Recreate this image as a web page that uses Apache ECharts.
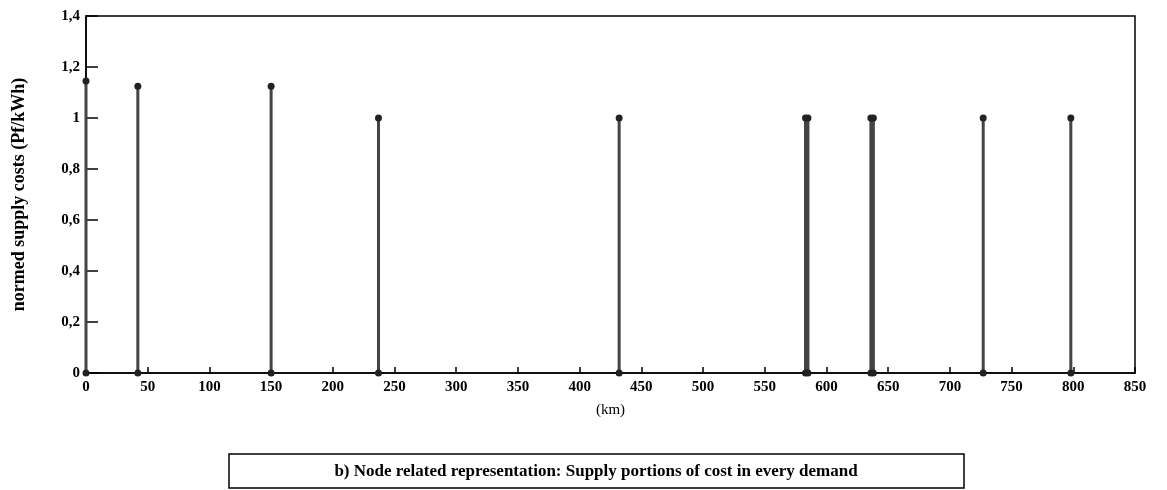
<!DOCTYPE html>
<html>
<head>
<meta charset="utf-8">
<script src="https://cdn.jsdelivr.net/npm/echarts@6/dist/echarts.min.js"></script>
<style>html,body{margin:0;padding:0;background:#fff}#c{width:1167px;height:490px}</style>
</head>
<body>
<div id="c"></div>
<script>
var nodeKm = [0, 42, 150, 237, 432, 583, 585, 636, 638, 727, 798];
var nodeCost = [1.145, 1.125, 1.125, 1.0, 1.0, 1.0, 1.0, 1.0, 1.0, 1.0, 1.0];
var yTicks = [0, 0.2, 0.4, 0.6, 0.8, 1, 1.2, 1.4];
var xTitle = '(km)';
var yTitle = 'normed supply costs (Pf/kWh)';
var caption = 'b) Node related representation: Supply portions of cost in every demand';

var font = '"Liberation Serif", "DejaVu Serif", serif';
var chart = echarts.init(document.getElementById('c'), null, {renderer: 'canvas'});
var series = nodeKm.map(function (x, i) {
  return {
    type: 'line',
    data: [[x, 0], [x, nodeCost[i]]],
    symbol: 'circle',
    symbolSize: 7,
    showSymbol: true,
    lineStyle: {color: '#444', width: 3},
    itemStyle: {color: '#222'},
    animation: false,
    silent: true
  };
});
chart.setOption({
  animation: false,
  grid: {left: 86, right: 32, top: 16, bottom: 117, show: true, borderColor: '#000', borderWidth: 1.5, backgroundColor: 'transparent'},
  xAxis: {
    type: 'value', min: 0, max: 850, interval: 50,
    name: xTitle, nameLocation: 'middle', nameGap: 30,
    nameTextStyle: {fontFamily: font, fontSize: 15, color: '#000'},
    axisLine: {show: true, onZero: false, lineStyle: {color: '#000', width: 1.5}},
    axisTick: {show: true, inside: true, length: 6, lineStyle: {color: '#000', width: 1.5}},
    axisLabel: {fontFamily: font, fontWeight: 'bold', fontSize: 15, color: '#000', margin: 7},
    splitLine: {show: false}
  },
  yAxis: {
    type: 'value', min: yTicks[0], max: yTicks[yTicks.length - 1], interval: 0.2,
    name: yTitle, nameLocation: 'middle', nameGap: 58,
    nameTextStyle: {fontFamily: font, fontWeight: 'bold', fontSize: 18, color: '#000'},
    axisLine: {show: true, lineStyle: {color: '#000', width: 1.5}},
    axisTick: {show: true, inside: true, length: 12, lineStyle: {color: '#000', width: 1.5}},
    axisLabel: {fontFamily: font, fontWeight: 'bold', fontSize: 15, color: '#000', margin: 6,
      formatter: function (v) { return String(Math.round(v * 10) / 10).replace('.', ','); }},
    splitLine: {show: false}
  },
  graphic: [
    {type: 'rect', shape: {x: 229, y: 454, width: 735, height: 34}, style: {fill: '#fff', stroke: '#000', lineWidth: 1.5}},
    {type: 'text', x: 596, y: 472, style: {text: caption, fill: '#000', font: 'bold 17px ' + font, textAlign: 'center', textVerticalAlign: 'middle'}}
  ],
  series: series
});
</script>
</body>
</html>
